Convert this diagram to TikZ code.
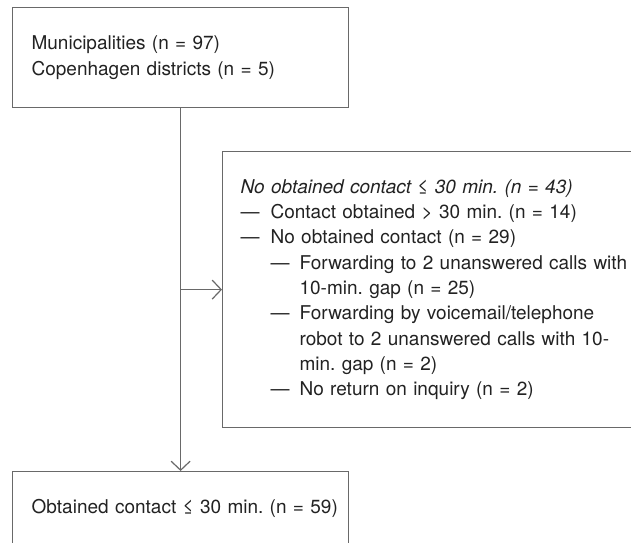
\documentclass[tikz,border=0pt]{standalone}
\usepackage{fontspec}
\setmainfont{TeX Gyre Heros}
\usetikzlibrary{arrows.meta,positioning}
\definecolor{framegray}{RGB}{105,105,105}
\definecolor{inkgray}{RGB}{34,34,34}
\newcommand{\lvlone}[1]{\makebox[30pt][l]{—}#1}
\newcommand{\lvltwo}[1]{\hspace*{30pt}\makebox[29pt][l]{—}#1}
\newcommand{\lvlcont}[1]{\hspace*{59pt}#1}
\frenchspacing

\begin{document}
\begin{tikzpicture}[
    x=1pt, y=1pt,
    every node/.style={align=left, text=inkgray, font=\fontsize{19}{25.3}\selectfont},
    flowbox/.style={rectangle, draw=framegray, line width=1.2pt, inner ysep=0pt},
    arrow/.style={draw=framegray, line width=1.2pt, -{Straight Barb[length=9pt,width=19pt,line width=1.2pt]}}
]

\useasboundingbox (0,0) rectangle (631,-542);
\clip (0,0) rectangle (631,-542);

% Boxes
\node[flowbox, anchor=north west, text width=298pt, inner xsep=19pt, minimum height=100pt] (cohort) at (12,-7)
    {Municipalities (n = 97)\\Copenhagen districts (n = 5)};
\node[flowbox, anchor=north west, text width=420pt, inner xsep=18pt, minimum height=276pt] (nocontact) at (222,-151)
    {\textit{No obtained contact ≤ 30 min. (n = 43)}\\
     \lvlone{Contact obtained > 30 min. (n = 14)}\\
     \lvlone{No obtained contact (n = 29)}\\
     \lvltwo{Forwarding to 2 unanswered calls with}\\
     \lvlcont{10-min. gap (n = 25)}\\
     \lvltwo{Forwarding by voicemail/telephone}\\
     \lvlcont{robot to 2 unanswered calls with 10-}\\
     \lvlcont{min. gap (n = 2)}\\
     \lvltwo{No return on inquiry (n = 2)}};
\node[flowbox, anchor=north west, text width=298pt, inner xsep=19pt, minimum height=74pt] (contact) at (12,-471)
    {\mbox{Obtained contact ≤ 30 min. (n = 59)}};

% Connections
\draw[arrow] (cohort.south) -- (contact.north);
\draw[arrow] (cohort.south |- nocontact.west) -- (nocontact.west);

\end{tikzpicture}
\end{document}
